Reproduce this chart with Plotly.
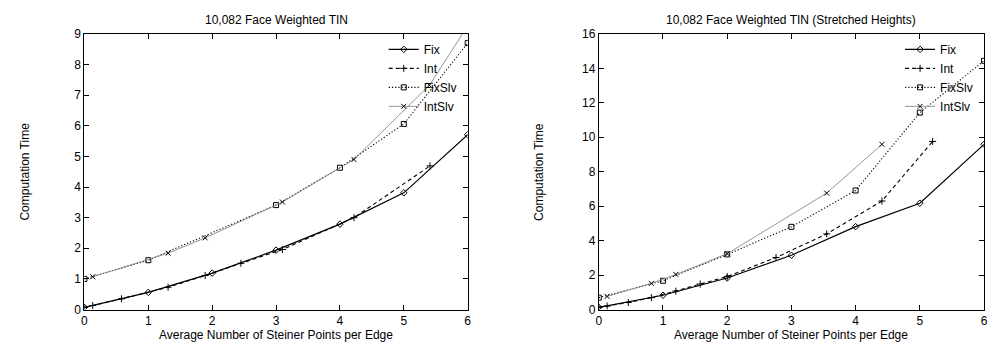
import plotly.graph_objects as go

# ---------------- data ----------------
# Left panel: 10,082 Face Weighted TIN
L_fix_x = [0, 1, 2, 3, 4, 5, 6]
L_fix_y = [0.07, 0.56, 1.19, 1.94, 2.79, 3.81, 5.71]
L_int_x = [0, 0.13, 0.58, 1.31, 1.89, 2.45, 3.1, 4.22, 5.41]
L_int_y = [0.07, 0.13, 0.35, 0.73, 1.11, 1.51, 1.96, 3.0, 4.69]
L_fixslv_x = [0, 1, 3, 4, 5, 6]
L_fixslv_y = [1.0, 1.61, 3.41, 4.63, 6.06, 8.7]
L_intslv_x = [0.13, 1.31, 1.89, 3.1, 4.22, 5.4, 6.6]
L_intslv_y = [1.07, 1.84, 2.34, 3.51, 4.9, 7.32, 11.2]

# Right panel: 10,082 Face Weighted TIN (Stretched Heights)
R_fix_x = [0, 1, 2, 3, 4, 5, 6]
R_fix_y = [0.13, 0.83, 1.83, 3.15, 4.81, 6.17, 9.59]
R_int_x = [0, 0.13, 0.46, 0.82, 1.2, 1.58, 2.0, 2.76, 3.55, 4.41, 5.2]
R_int_y = [0.13, 0.2, 0.41, 0.69, 1.07, 1.48, 1.91, 3.02, 4.39, 6.3, 9.76]
R_fixslv_x = [0, 1, 2, 3, 4, 5, 6]
R_fixslv_y = [0.69, 1.67, 3.2, 4.8, 6.91, 11.43, 14.44]
R_intslv_x = [0.13, 0.82, 1.2, 2.0, 3.55, 4.41]
R_intslv_y = [0.76, 1.52, 2.04, 3.24, 6.76, 9.59]

series_names = ["Fix", "Int", "FixSlv", "IntSlv"]
titles = ["10,082 Face Weighted TIN", "10,082 Face Weighted TIN (Stretched Heights)"]
x_title = "Average Number of Steiner Points per Edge"
y_title = "Computation Time"

FONT = "Liberation Sans, Arial, Helvetica, sans-serif"
W, H = 992, 354

styles = {
    "Fix": dict(line=dict(color="black", width=1.2, dash="solid"),
                marker=dict(symbol="diamond-open", size=5, color="black", line=dict(width=1))),
    "Int": dict(line=dict(color="black", width=1.1, dash="4px,3px"),
                marker=dict(symbol="cross-thin", size=5, color="black", line=dict(width=1, color="black"))),
    "FixSlv": dict(line=dict(color="black", width=1.1, dash="1.2px,2px"),
                   marker=dict(symbol="square-open", size=5, color="black", line=dict(width=1))),
    "IntSlv": dict(line=dict(color="#8a8a8a", width=0.9, dash="solid"),
                   marker=dict(symbol="x-thin", size=5, color="black", line=dict(width=1, color="black"))),
}

fig = go.Figure()

panels = [
    ("x", "y", "legend", [(L_fix_x, L_fix_y), (L_int_x, L_int_y), (L_fixslv_x, L_fixslv_y), (L_intslv_x, L_intslv_y)]),
    ("x2", "y2", "legend2", [(R_fix_x, R_fix_y), (R_int_x, R_int_y), (R_fixslv_x, R_fixslv_y), (R_intslv_x, R_intslv_y)]),
]
for xa, ya, lg, data in panels:
    for name, (xs, ys) in zip(series_names, data):
        st = styles[name]
        fig.add_trace(go.Scatter(x=xs, y=ys, name=name, mode="lines+markers",
                                 xaxis=xa, yaxis=ya, legend=lg,
                                 line=st["line"], marker=st["marker"]))

def px_x(p):
    return p / W

def px_y(p):
    return 1 - p / H

top, bottom = 28, 315
yd = [px_y(bottom), px_y(top)]
Ld = [px_x(82), px_x(468)]
Rd = [px_x(600), px_x(988)]

axis_common = dict(showline=True, linecolor="black", linewidth=1, mirror="ticks",
                   ticks="inside", ticklen=5, tickcolor="black", tickwidth=1,
                   showgrid=False, zeroline=False,
                   tickfont=dict(family=FONT, size=12, color="black"))

fig.update_layout(
    width=W, height=H,
    margin=dict(l=0, r=0, t=0, b=0),
    paper_bgcolor="white", plot_bgcolor="white",
    font=dict(family=FONT, size=12, color="black"),
    xaxis=dict(domain=Ld, range=[0, 6], dtick=1, anchor="y", **axis_common),
    yaxis=dict(domain=yd, range=[0, 9], dtick=1, anchor="x", **axis_common),
    xaxis2=dict(domain=Rd, range=[0, 6], dtick=1, anchor="y2", **axis_common),
    yaxis2=dict(domain=yd, range=[0, 16], dtick=2, anchor="x2", **axis_common),
    legend=dict(x=px_x(462), y=px_y(29), xanchor="right", yanchor="top",
                bgcolor="rgba(0,0,0,0)", font=dict(family=FONT, size=12),
                tracegroupgap=0, itemwidth=30),
    legend2=dict(x=px_x(982), y=px_y(29), xanchor="right", yanchor="top",
                 bgcolor="rgba(0,0,0,0)", font=dict(family=FONT, size=12),
                 tracegroupgap=0, itemwidth=30),
    showlegend=True,
)

annotations = []
for d, t in zip([Ld, Rd], titles):
    cx = (d[0] + d[1]) / 2
    annotations.append(dict(text=t, x=cx, y=px_y(14), xref="paper", yref="paper",
                            showarrow=False, xanchor="center", yanchor="middle",
                            font=dict(family=FONT, size=12)))
    annotations.append(dict(text=x_title, x=cx, y=px_y(342), xref="paper", yref="paper",
                            showarrow=False, xanchor="center", yanchor="middle",
                            font=dict(family=FONT, size=12)))
for xp in [22, 540]:
    annotations.append(dict(text=y_title, x=px_x(xp), y=(yd[0] + yd[1]) / 2, xref="paper", yref="paper",
                            showarrow=False, textangle=-90, xanchor="center", yanchor="middle",
                            font=dict(family=FONT, size=12)))
fig.update_layout(annotations=annotations)

css_js = (
    "var s=document.createElement('style');"
    "s.textContent='html,body{margin:0!important;padding:0!important;overflow:hidden!important;"
    "width:992px;height:354px;}';"
    "document.head.appendChild(s);"
)

fig.write_html("out.html", config={"displayModeBar": False}, post_script=css_js)
